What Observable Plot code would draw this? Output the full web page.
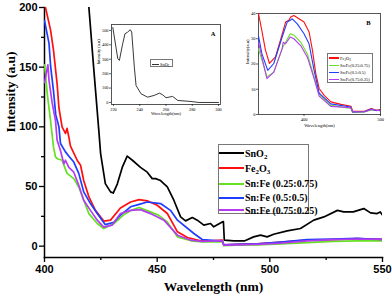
<!DOCTYPE html>
<html><head><meta charset="utf-8">
<script src="https://cdn.jsdelivr.net/npm/d3@7"></script>
<script src="https://cdn.jsdelivr.net/npm/@observablehq/plot@0.6"></script>
<style>
body{margin:0;background:#fff;}
#wrap{position:relative;width:392px;height:300px;overflow:hidden;background:#fff;}
.ins{position:absolute;}
.lg{position:absolute;font-family:"Liberation Serif","Times New Roman",serif;color:#000;white-space:nowrap;}
.lg .row{position:absolute;display:flex;align-items:center;}
.lg .sw{display:inline-block;}
sub{font-size:70%;vertical-align:-0.25em;line-height:0;}
</style></head>
<body><div id="wrap"></div>
<script>
// ---------- main chart data ----------
const names = ["SnO2", "Fe2O3", "Sn:Fe (0.25:0.75)", "Sn:Fe (0.5:0.5)", "Sn:Fe (0.75:0.25)"];
const colors = ["#000000", "#ff1010", "#66e022", "#1f3dff", "#b43cf0"];

const sno2W = [419.2, 421.8, 424.1, 424.9, 427, 429.3, 430.5, 432.3, 434.5, 436.7, 439, 442.6, 445.6, 447.8, 449.3, 451.5, 454.5, 457.4, 460.4, 462.6, 465.6, 467.8, 470.7, 473.7, 475.1, 478.9, 479.4, 479.8, 484, 488.7, 492.8, 495.9, 498.8, 501.7, 507.7, 513.6, 519.5, 524, 530, 532.8, 537, 541.7, 544.7, 547.6, 549, 550];
const sno2V = [212, 150, 97, 77.6, 52.4, 45.5, 44.5, 52, 66, 75.5, 72, 66, 62, 56.6, 56.6, 55, 49.6, 38.5, 24.5, 21.2, 24, 21.8, 17.6, 19, 16.2, 20.3, 20.5, 5, 4.5, 4.4, 7.8, 9.2, 7.8, 10, 12.8, 14.8, 21.8, 24.5, 30, 28.7, 28.7, 31.5, 27.9, 27.3, 28.7, 26];

const fe2o3W = [400.2, 402.7, 404, 405.6, 406.4, 407.8, 409.3, 410, 410.8, 411.5, 413, 414.5, 416, 417.4, 419.7, 422.6, 426.3, 429.3, 433.7, 438.2, 442, 445.6, 450, 454.5, 459, 463.4, 469.2, 473.7, 478.9, 479.6, 485, 494.4, 505, 516.6, 528, 538.8, 545, 550];
const fe2o3V = [202, 181, 164, 136, 116, 100, 94.5, 98.7, 91.5, 84, 78, 72, 67.8, 55, 41.3, 30, 21, 21.8, 32, 37, 39, 38, 34.3, 27.4, 12, 7.3, 4.5, 4.4, 5, 1, 1.5, 2, 3.5, 5, 5.5, 6.4, 6, 5.6];

const sf25W = [400, 400.4, 401.2, 402.7, 404, 404.9, 406, 407.8, 410, 413, 415.2, 417.4, 419.7, 423.4, 426.3, 430.8, 435, 438.5, 442, 447, 450.5, 454.5, 459, 465, 470, 478.9, 479.6, 485, 494.4, 505, 516.6, 528, 538.8, 550];
const sf25V = [152, 145, 128, 105, 83, 74.7, 73, 72, 61, 56.6, 49.6, 38.5, 27.3, 19, 14.8, 19, 26, 30, 32.4, 28.7, 26, 20.3, 7.8, 4.5, 3.5, 3.8, 0.5, 0.8, 1, 2, 3, 4, 4.5, 4.5];

const sf50W = [400, 402, 402.7, 404, 405, 406.4, 407.1, 409.3, 411, 413, 415.2, 417.4, 420.4, 423.4, 427, 430.8, 433.7, 438.2, 442, 445.6, 451.5, 455.9, 459, 466.3, 470, 478.9, 479.6, 485, 494.4, 505, 516.6, 528, 538.8, 545, 550];
const sf50V = [189, 170, 151, 130, 110, 100, 86, 79, 75, 70.5, 61, 45.5, 35.7, 27.3, 18, 20, 26, 33, 35, 37, 35.7, 30, 21.8, 10.6, 5.6, 4.2, 1, 1.5, 2, 3.5, 5.5, 6, 6.5, 6, 5.6];

const sf75W = [400, 401.5, 402, 403.4, 404.9, 405.6, 407.1, 408.6, 409.3, 410.8, 413, 415.2, 417.4, 420.4, 423.4, 426.3, 430, 433.7, 438.2, 442.6, 447, 453, 459, 465, 470, 478.9, 479.6, 485, 494.4, 505, 516.6, 528, 538.8, 550];
const sf75V = [137, 152, 139, 120, 105, 88.7, 80, 69, 72, 66, 62, 51, 38.5, 30, 21.8, 16, 17.6, 27.3, 30, 30.6, 27.3, 21.8, 9.2, 5, 4, 4.6, 0.8, 1, 1.5, 2.5, 4.5, 5.5, 6, 5.6];

const xTicks = [400, 450, 500, 550];
const xMinor = [425, 475, 525];
const yTicks = [0, 50, 100, 150, 200];
const yMinor = [25, 75, 125, 175];

// ---------- inset A data ----------
const aW = [219.5, 223.3, 224.5, 227, 228.8, 230.8, 232.8, 233.9, 235.9, 237.2, 241, 246, 251, 255, 257.5, 260, 265, 269, 279, 285, 300];
const aV = [520, 303, 292, 407, 477, 488, 505, 488, 245, 118, 60, 37, 49, 65, 53, 33, 42, 14, 7, 0, 0];
const aXTicks = [220, 240, 260, 280, 300];
const aYTicks = [0, 100, 200, 300, 400, 500];

// ---------- inset B data ----------
const bNames = ["Fe2O3", "Sn:Fe(0.25:0.75)", "Sn:Fe(0.5:0.5)", "Sn:Fe(0.75:0.25)"];
const bRedW = [340.5, 345.3, 349.6, 354.8, 362.7, 369.3, 375.9, 380.3, 382.5, 386.8, 393.4, 400, 406.6, 411, 415.4, 419.8, 426.4, 435.1, 448.3, 461.4, 463.6, 478.9, 488, 494.5, 500];
const bRedV = [40, 32.5, 25.5, 20.2, 22.8, 29.5, 36.6, 37.3, 38.6, 39.2, 37.9, 36.6, 32.7, 25.5, 16.2, 10.3, 7.6, 5, 4, 3.3, 1.3, 1.3, 2.4, 1.7, 2];
const bGreenW = [340.5, 351.5, 360.5, 371.4, 382, 386.8, 395.6, 404.4, 413.2, 419.8, 435, 457, 461.4, 463.6, 478.9, 488, 500];
const bGreenV = [26, 14.9, 16.8, 26.1, 32, 31.4, 28.7, 24, 14.9, 8, 3.6, 2.6, 2.5, 0.8, 1, 1.8, 1.5];
const bBlueW = [340.5, 345, 352.6, 360.5, 371.4, 378, 382, 384.6, 391.2, 400, 406.6, 413.2, 419.8, 435, 461, 463.6, 478.9, 488, 494.5, 500];
const bBlueV = [31, 24, 17.5, 20.2, 30.7, 36.6, 37.3, 37.9, 35.9, 32, 28, 17.5, 8.5, 4.2, 3, 1, 1.1, 2.2, 1.5, 1.8];
const bPurpleW = [340.5, 351.5, 360.5, 371.4, 372.7, 375.9, 382, 386.8, 395.6, 404.4, 413.2, 419.8, 435, 457, 461.4, 463.6, 478.9, 488, 500];
const bPurpleV = [28.6, 14.2, 16.8, 26, 28.6, 28, 30.7, 30, 27.3, 22.7, 14.2, 7.3, 3.2, 2.8, 2.7, 1, 1.1, 2, 1.5];
const bXTicks = [400, 500];
const bYTicks = [0, 10, 20, 30, 40];

// ---------- build ----------
const zip = (W, V, s) => W.map((w, i) => ({w, v: V[i], s}));
const mainData = [
  zip(sno2W, sno2V, names[0]),
  zip(fe2o3W, fe2o3V, names[1]),
  zip(sf25W, sf25V, names[2]),
  zip(sf50W, sf50V, names[3]),
  zip(sf75W, sf75V, names[4])
];
const sans = "'Liberation Sans', Arial, sans-serif";
const serif = "'Liberation Serif', 'Times New Roman', serif";
const wrap = document.getElementById("wrap");

const main = Plot.plot({
  width: 392, height: 300,
  marginLeft: 44, marginRight: 10, marginTop: 7, marginBottom: 43,
  x: {domain: [400, 550]},
  y: {domain: [-9.5, 200]},
  style: {color: "#000", background: "transparent", overflow: "visible"},
  marks: [
    Plot.axisY({ticks: yTicks, tickSize: 5, tickPadding: 2, tickFormat: d => d, fontFamily: sans, fontWeight: "bold", fontSize: 11, strokeWidth: 1.3, label: null}),
    Plot.axisY({ticks: yMinor, tickSize: 3, tickFormat: null, text: null, strokeWidth: 1.3, label: null}),
    Plot.axisX({ticks: xTicks, tickSize: 5, tickPadding: 3, tickFormat: d => d, fontFamily: sans, fontWeight: "bold", fontSize: 11, strokeWidth: 1.3, label: null}),
    Plot.axisX({ticks: xMinor, tickSize: 3, text: null, strokeWidth: 1.3, label: null}),
    Plot.frame({anchor: "left", strokeWidth: 1.5}),
    Plot.frame({anchor: "bottom", strokeWidth: 1.5}),
    ...mainData.map((d, i) => Plot.line(d, {x: "w", y: "v", stroke: colors[i], strokeWidth: 1.7, clip: true, curve: "linear"})),
    Plot.text(["Wavelength (nm)"], {frameAnchor: "bottom", dy: 33, fontFamily: serif, fontWeight: "bold", fontSize: 13.5}),
    Plot.text(["Intensity (a.u)"], {frameAnchor: "left", dx: -34, rotate: -90, fontFamily: serif, fontWeight: "bold", fontSize: 13.5})
  ]
});
wrap.appendChild(main);

// inset A
const insA = Plot.plot({
  width: 132, height: 102,
  marginLeft: 19, marginRight: 4, marginTop: 6, marginBottom: 16,
  x: {domain: [218.5, 301.5]},
  y: {domain: [-14, 541]},
  style: {color: "#000", background: "transparent", overflow: "visible"},
  marks: [
    Plot.frame({stroke: "#444", strokeWidth: 0.9}),
    Plot.axisY({ticks: aYTicks, tickSize: 2, tickPadding: 1, fontSize: 4.3, fontFamily: serif, label: null, strokeWidth: 0.6}),
    Plot.axisX({ticks: aXTicks, tickSize: 2, tickPadding: 1, fontSize: 4.3, fontFamily: serif, label: null, strokeWidth: 0.6}),
    Plot.line(zip(aW, aV, "SnO2"), {x: "w", y: "v", stroke: "#222", strokeWidth: 0.9, clip: true}),
    Plot.text(["Wavelength(nm)"], {frameAnchor: "bottom", dy: 10, fontSize: 4.5, fontFamily: serif}),
    Plot.text(["Intensity (a.u)"], {frameAnchor: "left", dx: -13, rotate: -90, fontSize: 4.5, fontFamily: serif}),
    Plot.text(["A"], {frameAnchor: "top-right", dx: -5, dy: 7, fontSize: 6.5, fontFamily: serif, fontWeight: "bold"})
  ]
});
insA.classList.add("ins");
insA.style.left = "92px"; insA.style.top = "18px";
wrap.appendChild(insA);

// inset B
const bData = [
  zip(bRedW, bRedV, bNames[0]),
  zip(bGreenW, bGreenV, bNames[1]),
  zip(bBlueW, bBlueV, bNames[2]),
  zip(bPurpleW, bPurpleV, bNames[3])
];
const bColors = [colors[1], colors[2], colors[3], colors[4]];
const insB = Plot.plot({
  width: 154, height: 125,
  marginLeft: 20, marginRight: 12, marginTop: 5, marginBottom: 19,
  x: {domain: [340.5, 500]},
  y: {domain: [0, 40]},
  style: {color: "#000", background: "transparent", overflow: "visible"},
  marks: [
    Plot.frame({stroke: "#444", strokeWidth: 0.9}),
    Plot.axisY({ticks: bYTicks, tickSize: 2, tickPadding: 1, fontSize: 4.5, fontFamily: serif, label: null, strokeWidth: 0.6}),
    Plot.axisX({ticks: bXTicks, tickSize: 2, tickPadding: 1, fontSize: 4.5, fontFamily: serif, label: null, strokeWidth: 0.6}),
    ...bData.map((d, i) => Plot.line(d, {x: "w", y: "v", stroke: bColors[i], strokeWidth: 1.1, clip: true})),
    Plot.text(["Wavelength(nm)"], {frameAnchor: "bottom", dy: 12, fontSize: 4.6, fontFamily: serif}),
    Plot.text(["Intensity(a.u)"], {frameAnchor: "left", dx: -11, rotate: -90, fontSize: 4.6, fontFamily: serif}),
    Plot.text(["B"], {frameAnchor: "top-right", dx: -10, dy: 7, fontSize: 6.5, fontFamily: serif, fontWeight: "bold"})
  ]
});
insB.classList.add("ins");
insB.style.left = "238px"; insB.style.top = "8px";
wrap.appendChild(insB);

// legends (HTML)
function legend(opts) {
  const box = document.createElement("div");
  box.className = "lg";
  Object.assign(box.style, {left: opts.x + "px", top: opts.y + "px", width: opts.w + "px", height: opts.h + "px",
    border: opts.border, fontSize: opts.fs + "px", fontWeight: opts.fw, background: "#fff", boxSizing: "border-box"});
  opts.items.forEach((it, i) => {
    const row = document.createElement("div");
    row.className = "row";
    Object.assign(row.style, {left: opts.padL + "px", top: (opts.rows[i] - opts.y - opts.rowH / 2) + "px", height: opts.rowH + "px"});
    const sw = document.createElement("span");
    sw.className = "sw";
    Object.assign(sw.style, {width: opts.swW + "px", height: opts.swH + "px", background: it.c, marginRight: opts.gap + "px"});
    const t = document.createElement("span");
    t.innerHTML = it.html;
    row.appendChild(sw); row.appendChild(t);
    box.appendChild(row);
  });
  wrap.appendChild(box);
}
const lab = s => s.replace(/O2$/, "O<sub>2</sub>").replace(/O3$/, "O<sub>3</sub>").replace(/Fe2/, "Fe<sub>2</sub>");
legend({x: 218, y: 144, w: 91, h: 70, border: "1px solid #777", fs: 10, fw: "bold", padL: 0, swW: 25, swH: 2, gap: 1, rowH: 14,
  rows: [152, 167, 182.5, 196.5, 209],
  items: names.map((n, i) => ({c: colors[i], html: lab(n)}))});
legend({x: 327, y: 53, w: 46, h: 30, border: "0.6px solid #777", fs: 4.4, fw: "normal", padL: 1, swW: 10, swH: 1.2, gap: 1, rowH: 6,
  rows: [57, 64.5, 71.5, 78.5],
  items: bNames.map((n, i) => ({c: bColors[i], html: lab(n)}))});
legend({x: 150, y: 59, w: 23, h: 8, border: "0.6px solid #777", fs: 4.4, fw: "normal", padL: 1, swW: 7, swH: 1, gap: 1, rowH: 6,
  rows: [63],
  items: [{c: "#333", html: "SnO<sub>2</sub>"}]});
</script></body></html>
